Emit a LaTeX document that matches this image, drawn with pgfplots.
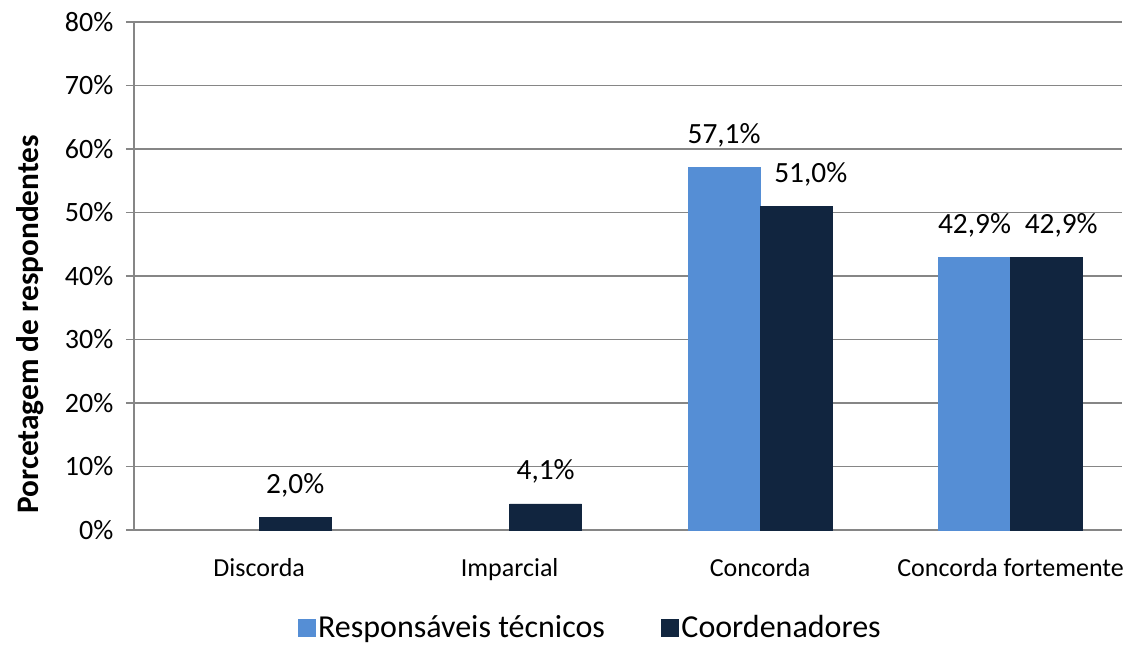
\documentclass[border=0pt]{standalone}
\usepackage{pgfplots}
\pgfplotsset{compat=1.18}
\usepackage{fontspec}
\setmainfont{Carlito}
\definecolor{lightb}{RGB}{85,142,213}
\definecolor{darkb}{RGB}{17,37,63}
\definecolor{gridg}{RGB}{134,134,134}
\begin{document}
\begin{tikzpicture}
\path[use as bounding box] (-100.5pt,-85.5pt) rectangle (741.75pt,397.5pt);
\begin{axis}[
  at={(0,0)}, anchor=south west,
  scale only axis,
  width=741pt, height=381pt,
  ybar=0pt, bar width=54pt,
  xmin=-0.5, xmax=3.445,
  ymin=0, ymax=80,
  xtick={0,1,2,3},
  xticklabels={Discorda,Imparcial,Concorda,Concorda fortemente},
  xtick style={draw=none},
  xticklabel style={font=\fontsize{19.5}{22}\selectfont, yshift=-12pt},
  ytick={0,10,...,80},
  yticklabel={\pgfmathprintnumber{\tick}\%},
  yticklabel style={font=\fontsize{21}{24}\selectfont, xshift=-6pt},
  /pgf/number format/assume math mode=true,
  axis x line=bottom, axis y line=left,
  axis line style={-, gridg, line width=1.1pt},
  ytick style={gridg, line width=1.1pt},
  tick align=outside, major tick length=6pt,
  ymajorgrids, grid style={gridg, line width=1.1pt},
  ylabel={\bfseries Porcetagem de respondentes},
  ylabel style={font=\fontsize{23.5}{26}\selectfont, at={(axis description cs:-0.105,0.405)}, anchor=center},
  nodes near coords={\pgfmathprintnumber[fixed,fixed zerofill,precision=1,use comma]{\pgfplotspointmeta}\%},
  nodes near coords style={font=\fontsize{22}{24}\selectfont, text=black, inner sep=4pt, yshift=11pt},
  legend style={at={(0.462,-0.192)}, anchor=center, draw=none, legend columns=2,
    font=\fontsize{24}{27}\selectfont,
    /tikz/every even column/.append style={column sep=40pt}},
  legend image code/.code={\fill[#1] (0pt,-6.5pt) rectangle (13pt,6.5pt);},
  clip=false,
]
\addplot[fill=lightb, draw=lightb] coordinates {(2,57.1) (3,42.9)};
\addplot[fill=darkb, draw=darkb,
  coordinate style/.condition={x>1.5}{xshift=11pt}] coordinates {(0,2.0) (1,4.1) (2,51.0) (3,42.9)};
\legend{Responsáveis técnicos, Coordenadores}
\end{axis}
\end{tikzpicture}
\end{document}
